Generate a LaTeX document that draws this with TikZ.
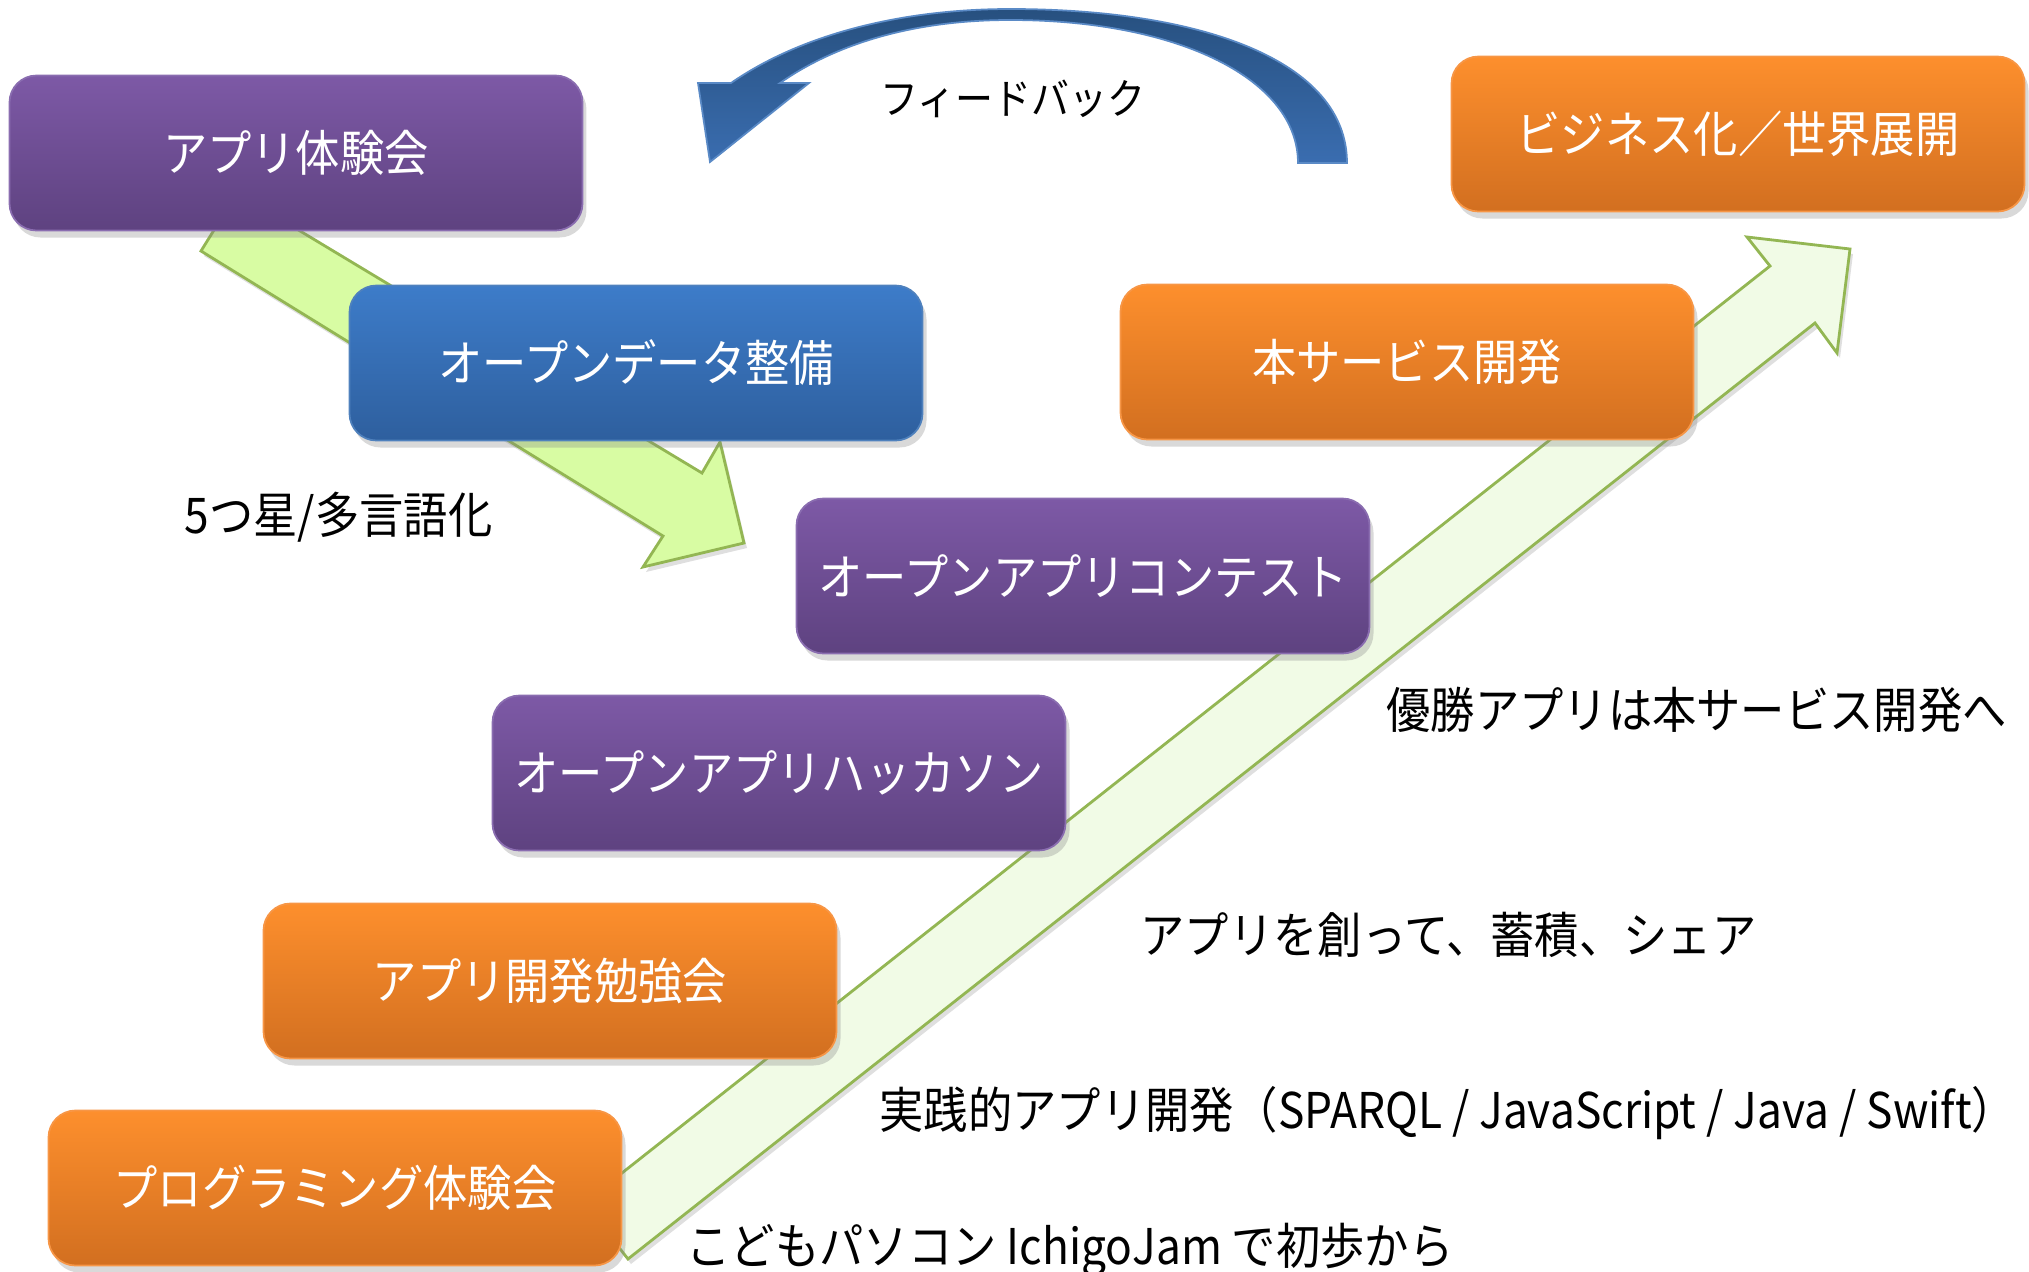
\documentclass[tikz,border=0pt]{standalone}
\usepackage{fontspec}
\setmainfont{Noto Sans CJK JP}[FakeStretch=0.9]
\usetikzlibrary{shadows}

\definecolor{purpletop}{HTML}{7D59A6}
\definecolor{purplebot}{HTML}{5E4280}
\definecolor{purpleline}{HTML}{8A6DB0}
\definecolor{bluetop}{HTML}{3D7CC9}
\definecolor{bluebot}{HTML}{2E5F9E}
\definecolor{blueline}{HTML}{4F81BD}
\definecolor{orangetop}{HTML}{FD8F2D}
\definecolor{orangebot}{HTML}{D26F20}
\definecolor{orangeline}{HTML}{F79646}
\definecolor{stepgreen}{HTML}{D8FCA3}
\definecolor{risegreen}{HTML}{F1FBE6}
\definecolor{greenline}{HTML}{93B653}
\definecolor{fbtop}{HTML}{27507F}
\definecolor{fbbot}{HTML}{3A6DB0}
\definecolor{fbline}{HTML}{5A8AC6}

\tikzset{
  stagebox/.style={rounded corners=2.7mm, minimum width=57.3mm, minimum height=15.5mm,
    text=white, font=\fontsize{14}{16}\selectfont, line width=0.5pt,
    drop shadow={opacity=0.3, shadow xshift=0.4mm, shadow yshift=-0.7mm}},
  purplebox/.style={stagebox, draw=purpleline, top color=purpletop, bottom color=purplebot},
  bluebox/.style={stagebox, draw=blueline, top color=bluetop, bottom color=bluebot},
  orangebox/.style={stagebox, draw=orangeline, top color=orangetop, bottom color=orangebot},
  note/.style={anchor=west, inner sep=0pt, font=\fontsize{14}{16}\selectfont},
  blockarrow/.style={draw=greenline, line width=0.8pt, line join=miter,
    drop shadow={opacity=0.25, shadow xshift=0.3mm, shadow yshift=-0.5mm}}
}

\begin{document}
\begin{tikzpicture}[x=0.1mm, y=-0.1mm]
  \useasboundingbox (0,0) rectangle (2029,1271);

  \filldraw[blockarrow, fill=risegreen] (628,1259) -- (584,1203) -- (1770,266) -- (1747,237) -- (1850,249) -- (1837,353) -- (1815,323) -- cycle;
  \filldraw[blockarrow, fill=stepgreen] (201,251) -- (237,193) -- (702,473) -- (720,442) -- (744,543) -- (643,567) -- (663,536) -- cycle;

  \node[purplebox] (taiken) at (296,153) {アプリ体験会};
  \node[bluebox] (opendata) at (636,363) {オープンデータ整備};
  \node[purplebox] (contest) at (1083,576) {オープンアプリコンテスト};
  \node[purplebox] (hackathon) at (779,773) {オープンアプリハッカソン};
  \node[orangebox] (benkyo) at (550,981) {アプリ開発勉強会};
  \node[orangebox] (programming) at (335,1188) {プログラミング体験会};
  \node[orangebox] (honservice) at (1407,362) {本サービス開発};
  \node[orangebox] (business) at (1738,134) {ビジネス化／世界展開};

  \filldraw[draw=fbline, line width=0.5pt, top color=fbtop, bottom color=fbbot]
    (731,83) .. controls (800,35) and (900,9) .. (1010,9)
    .. controls (1200,9) and (1347,60) .. (1347,163) -- (1298,163)
    .. controls (1298,80) and (1180,20) .. (1010,20)
    .. controls (905,20) and (830,48) .. (780,83) -- (809,83) -- (710,162) -- (698,83) -- cycle;

  \node[note, font=\fontsize{12}{14}\selectfont] (feedback) at (880,99) {フィードバック};
  \node[note] (stars) at (184,517) {5つ星/多言語化};
  \node[note] (winner) at (1386,710) {優勝アプリは本サービス開発へ};
  \node[note] (share) at (1140,935) {アプリを創って、蓄積、シェア};
  \node[note] (practice) at (879,1113) {実践的アプリ開発（SPARQL / JavaScript / Java / Swift）};
  \node[note] (kids) at (686,1250) {こどもパソコン IchigoJam で初歩から};
\end{tikzpicture}
\end{document}
